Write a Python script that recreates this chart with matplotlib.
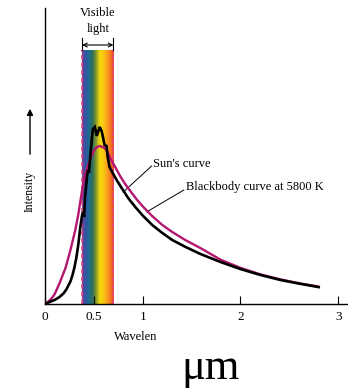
import numpy as np
import matplotlib
matplotlib.use("Agg")
import matplotlib.pyplot as plt
from matplotlib.colors import LinearSegmentedColormap

# ---- data (wavelength in micrometres, intensity in arbitrary units) ----
sun_wl = [0.00, 0.05, 0.10, 0.15, 0.19, 0.22, 0.26, 0.28, 0.30, 0.32, 0.34, 0.36,
          0.38, 0.39, 0.40, 0.41, 0.43, 0.44, 0.45, 0.46, 0.48, 0.49, 0.51, 0.53,
          0.55, 0.56, 0.58, 0.61, 0.63, 0.64, 0.66, 0.687, 0.738, 0.790, 0.851,
          0.923, 1.005, 1.097, 1.200, 1.303, 1.436, 1.590, 1.795, 2.000, 2.205,
          2.410, 2.615, 2.800]
sun_int = [0.0, 0.7, 1.4, 2.4, 3.6, 5.0, 7.6, 9.6, 12.2, 15.5, 19.9, 25.7,
           30.1, 31.1, 29.4, 36.1, 43.2, 45.3, 44.3, 48.6, 56.1, 59.1, 59.8, 56.8,
           58.8, 59.8, 58.4, 53.7, 53.4, 50.0, 46.3, 44.6, 41.6, 38.9, 35.8,
           32.8, 29.7, 26.7, 24.0, 21.6, 19.3, 16.9, 14.2, 11.8, 9.8,
           8.1, 6.8, 5.7]

bb_wl = [0.00, 0.03, 0.07, 0.10, 0.15, 0.21, 0.26, 0.31, 0.34, 0.38, 0.41, 0.44,
         0.48, 0.50, 0.53, 0.56, 0.61, 0.64, 0.667, 0.718, 0.769, 0.821, 0.872,
         0.944, 1.005, 1.097, 1.200, 1.303, 1.436, 1.590, 1.795, 2.000, 2.205,
         2.410, 2.615, 2.800]
bb_int = [0.0, 0.7, 2.0, 3.4, 7.1, 12.2, 18.2, 25.0, 30.1, 38.5, 43.6, 47.0,
          50.3, 51.8, 53.0, 53.4, 52.7, 51.4, 49.3, 46.3, 43.2, 40.5, 38.2,
          35.1, 32.8, 29.7, 26.7, 24.3, 21.6, 18.9, 15.0, 12.2, 10.0,
          8.3, 6.9, 5.9]

visible_range = [0.38, 0.70]
xticks = [0, 0.5, 1, 2, 3]
xtick_labels = ["0", "0.5", "1", "2", "3"]
spectrum_colors = ["#7a3f95", "#2f55a8", "#1f6e8c", "#2e6f5a", "#8a9a2a",
                   "#f1dc10", "#f9c812", "#fba41c", "#f47a22", "#e8452c"]

SERIF = ["Liberation Serif", "DejaVu Serif"]
plt.rcParams["font.family"] = SERIF

W, H = 348, 390
fig = plt.figure(figsize=(W / 100, H / 100), dpi=100)
ax = fig.add_axes([45 / W, 1 - 304 / H, 303 / W, 296 / H])
ax.set_xlim(0, 3.1)
ax.set_ylim(0, 100)

# visible band
band_top = 85.8
cmap = LinearSegmentedColormap.from_list("spec", spectrum_colors)
grad = np.linspace(0, 1, 200).reshape(1, -1)
ax.imshow(grad, cmap=cmap, extent=[visible_range[0], visible_range[1], 0, band_top],
          aspect="auto", zorder=1, interpolation="bilinear")
for xv in visible_range:
    ax.plot([xv, xv], [0, band_top], color="#e0457a", lw=1.1, ls=(0, (3, 2)), zorder=2)

# curves
ax.plot(bb_wl, bb_int, color="#b3166f", lw=1.7, zorder=3, solid_capstyle="round")
ax.plot(sun_wl, sun_int, color="black", lw=1.9, zorder=4, solid_joinstyle="miter")

# visible light marker
ax.annotate("", xy=(visible_range[0], 87.5), xytext=(visible_range[1], 87.5),
            arrowprops=dict(arrowstyle="<->", lw=0.8, color="black",
                            shrinkA=0, shrinkB=0, mutation_scale=7),
            annotation_clip=False)
for xv in visible_range:
    ax.plot([xv, xv], [85.8, 90.0], color="black", lw=0.8, clip_on=False)
ax.text(0.54, 98.3, "Visible", ha="center", va="center", fontsize=9, clip_on=False)
ax.text(0.54, 92.9, "light", ha="center", va="center", fontsize=9, clip_on=False)

# labels with leader lines
ax.plot([0.80, 1.09], [37.8, 46.6], color="black", lw=0.7)
ax.text(1.10, 47.3, "Sun's curve", ha="left", va="center", fontsize=9)
ax.plot([1.04, 1.42], [31.1, 38.5], color="black", lw=0.7)
ax.text(1.44, 39.5, "Blackbody curve at 5800 K", ha="left", va="center", fontsize=9)

# axes styling
for s in ["top", "right"]:
    ax.spines[s].set_visible(False)
ax.spines["left"].set_linewidth(1.0)
ax.spines["bottom"].set_linewidth(1.0)
ax.set_yticks([])
ax.set_xticks(xticks)
ax.set_xticklabels(xtick_labels, fontsize=9.5)
ax.tick_params(axis="x", direction="in", length=6, width=0.8, pad=5)

# y label with arrow
fig.text(30 / W, 1 - 191 / H, "Intensity", rotation=90, ha="center", va="center",
         fontsize=8.5)
fig.add_artist(matplotlib.patches.FancyArrowPatch(
    (30 / W, 1 - 157 / H), (30 / W, 1 - 106 / H), transform=fig.transFigure,
    arrowstyle="-|>", mutation_scale=9, lw=1.0, color="black"))

fig.text(136 / W, 1 - 337 / H, "Wavelen", ha="center", va="center", fontsize=9)
fig.text(211 / W, 1 - 368 / H, "μm", ha="center", va="center", fontsize=32)

fig.savefig("out.png", dpi=100, facecolor="white")
